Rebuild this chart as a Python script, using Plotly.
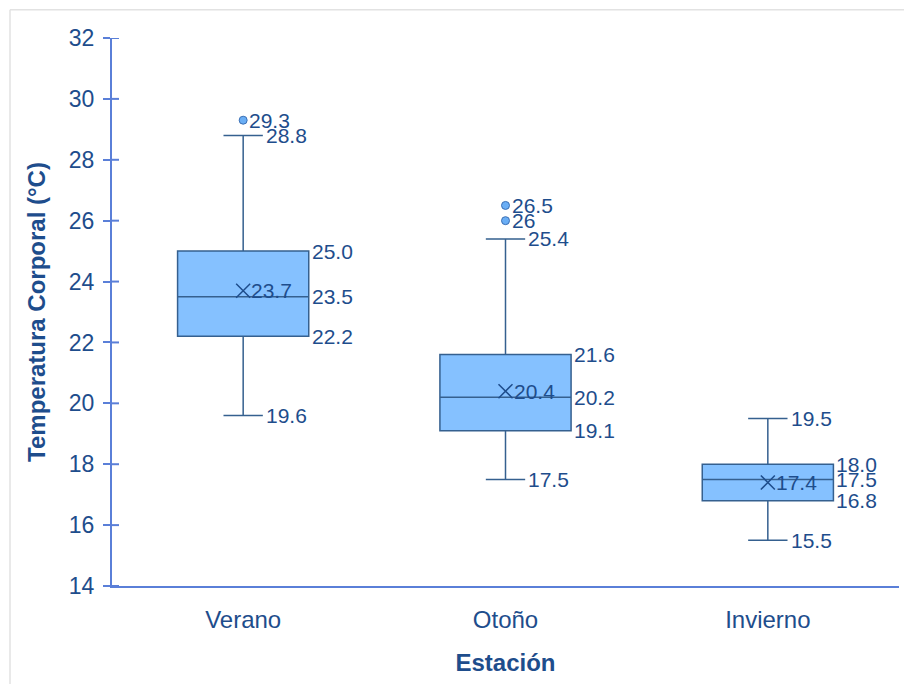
import plotly.graph_objects as go

# Estadísticos de temperatura corporal por estación
estaciones = ["Verano", "Otoño", "Invierno"]
q1 = [22.2, 19.1, 16.8]
mediana = [23.5, 20.2, 17.5]
q3 = [25.0, 21.6, 18.0]
bigote_inf = [19.6, 17.5, 15.5]
bigote_sup = [28.8, 25.4, 19.5]
media = [23.7, 20.4, 17.4]
atipicos = [[29.3], [26, 26.5], []]

y_ticks = [14, 16, 18, 20, 22, 24, 26, 28, 30, 32]

FONT = "Liberation Sans, Arial, sans-serif"
TEXT = "#1e4d8c"
AXIS = "#5a7fd8"
BOX_FILL = "#85c1ff"
BOX_LINE = "#35608f"
BOX_W = 0.5
WHISKER_W = 0.3

ML, MR = 112, 5
PLOT_W = 904 - ML - MR
pos = list(range(len(estaciones)))

fig = go.Figure()

fig.add_trace(go.Box(
    x=pos, q1=q1, median=mediana, q3=q3,
    lowerfence=bigote_inf, upperfence=bigote_sup,
    boxpoints=False, boxmean=False,
    width=BOX_W, whiskerwidth=WHISKER_W,
    fillcolor=BOX_FILL, line=dict(color=BOX_LINE, width=1.5),
    showlegend=False, hoverinfo="skip",
))

# Marcador de la media
fig.add_trace(go.Scatter(
    x=pos, y=media, mode="markers",
    marker=dict(symbol="x-thin-open", size=14, color=TEXT, line=dict(color=TEXT, width=1.5)),
    showlegend=False, hoverinfo="skip",
))

# Valores atípicos
ox = [i for i, vals in enumerate(atipicos) for _ in vals]
oy = [v for vals in atipicos for v in vals]
fig.add_trace(go.Scatter(
    x=ox, y=oy, mode="markers",
    marker=dict(symbol="circle", size=8, color="#6aaef5",
                line=dict(color="#3a6fb5", width=1)),
    showlegend=False, hoverinfo="skip",
))

# Etiquetas de valores
px_per_unit = PLOT_W / 3
box_shift = BOX_W / 2 * px_per_unit + 1
cap_shift = WHISKER_W * BOX_W / 2 * px_per_unit + 1

def etiqueta(x, y, text, shift):
    fig.add_annotation(x=x, y=y, xref="x", yref="y", text=text, showarrow=False,
                       xanchor="left", yanchor="middle", xshift=shift,
                       font=dict(family=FONT, size=21, color=TEXT))

for i in pos:
    for v in (q1[i], mediana[i], q3[i]):
        etiqueta(i, v, f"{v:.1f}", box_shift)
    for v in (bigote_inf[i], bigote_sup[i]):
        etiqueta(i, v, f"{v:.1f}", cap_shift)
    etiqueta(i, media[i], f"{media[i]:.1f}", 6)
    for v in atipicos[i]:
        etiqueta(i, v, f"{v:g}", 4)

# Parte interior de las marcas del eje Y (cruzan la línea del eje)
for t in y_ticks:
    fig.add_shape(type="line", xref="paper", yref="y", x0=0, x1=7 / PLOT_W, y0=t, y1=t,
                  line=dict(color=AXIS, width=2))

# Marco exterior (bordes superior e izquierdo)
fx = (10 - ML) / PLOT_W
fig.add_shape(type="line", xref="paper", yref="paper", x0=fx, x1=1.01, y0=1.0517, y1=1.0517,
              line=dict(color="#e2e2e2", width=1.5))
fig.add_shape(type="line", xref="paper", yref="paper", x0=fx, x1=fx, y0=1.0517, y1=-0.2,
              line=dict(color="#e2e2e2", width=1.5))

fig.update_layout(
    width=904, height=684,
    margin=dict(l=ML, r=MR, t=38, b=98),
    paper_bgcolor="white", plot_bgcolor="white",
    font=dict(family=FONT, color=TEXT),
    xaxis=dict(
        range=[-0.5, 2.5], tickmode="array", tickvals=pos, ticktext=estaciones,
        showline=True, linecolor=AXIS, linewidth=2, showgrid=False, zeroline=False,
        ticks="outside", ticklen=11, tickcolor="rgba(0,0,0,0)",
        tickfont=dict(size=24, color=TEXT),
        title=dict(text="<b>Estación</b>", font=dict(size=24, color=TEXT), standoff=22),
    ),
    yaxis=dict(
        range=[14, 32], tickmode="array", tickvals=y_ticks,
        showline=True, linecolor=AXIS, linewidth=2, showgrid=False, zeroline=False,
        ticks="outside", ticklen=7, tickwidth=2, tickcolor=AXIS,
        ticklabelstandoff=4,
        tickfont=dict(size=23, color=TEXT),
        title=dict(text="<b>Temperatura Corporal (°C)</b>", font=dict(size=24, color=TEXT), standoff=16),
    ),
)

fig.write_html("out.html")
